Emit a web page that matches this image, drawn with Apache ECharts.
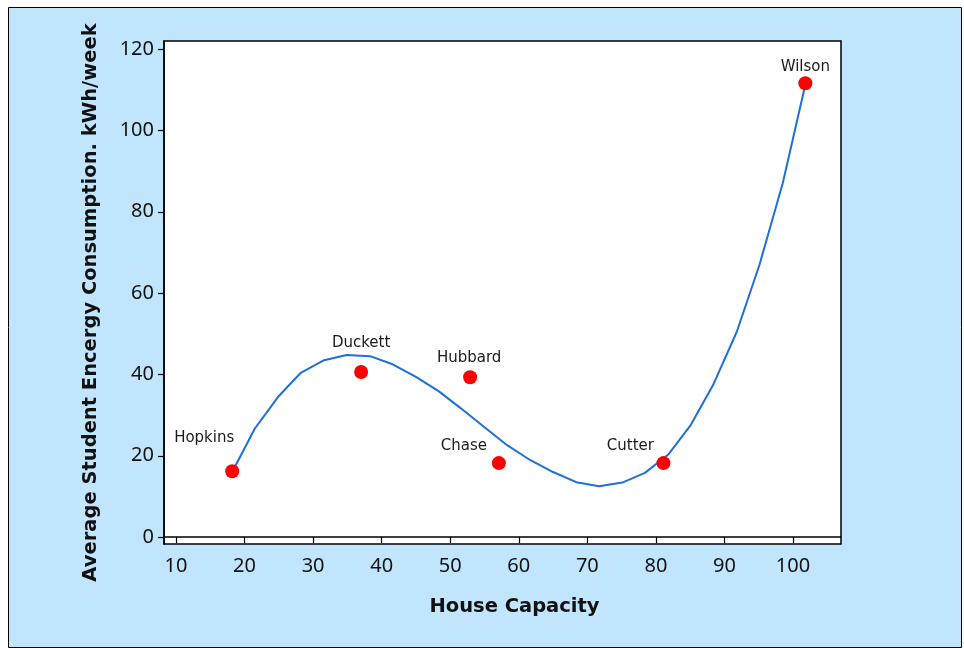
<!DOCTYPE html>
<html>
<head>
<meta charset="utf-8">
<script src="https://cdn.jsdelivr.net/npm/echarts@6/dist/echarts.min.js"></script>
<style>
  html, body { margin: 0; padding: 0; background: #fff; }
  #chart { width: 964px; height: 648px; }
</style>
</head>
<body>
<div id="chart"></div>
<script>
  // houses: name, capacity, energy per student
  const houseNames = ["Hopkins", "Duckett", "Hubbard", "Chase", "Cutter", "Wilson"];
  const houseCapacity = [18.2, 37.0, 52.9, 57.1, 81.1, 101.8];
  const houseEnergy = [16.2, 40.6, 39.3, 18.2, 18.2, 111.6];
  // label offsets relative to the dot (pixels)
  const labelOffsets = [[-28, -33], [0, -29], [-1, -19], [-35, -17], [-33, -17], [0, -16]];

  // fitted curve
  const curveX = [18.2, 21.5, 24.9, 28.2, 31.6, 34.9, 38.3, 41.6, 45.0, 48.3, 51.6, 55.0, 58.3,
    61.7, 65.0, 68.4, 71.7, 75.1, 78.4, 81.8, 85.1, 88.4, 91.8, 95.1, 98.5, 101.8];
  const curveY = [16.0, 26.7, 34.5, 40.4, 43.5, 44.8, 44.5, 42.5, 39.4, 35.9, 31.6, 27.0, 22.6,
    18.9, 16.0, 13.5, 12.5, 13.4, 15.8, 20.3, 27.6, 37.6, 50.5, 66.9, 87.0, 111.3];

  const xTicks = [10, 20, 30, 40, 50, 60, 70, 80, 90, 100];
  const yTicks = [0, 20, 40, 60, 80, 100, 120];

  const chart = echarts.init(document.getElementById("chart"));
  const font = "'Noto Sans', 'DejaVu Sans', sans-serif";
  const titleFont = "'DejaVu Sans', sans-serif";

  chart.setOption({
    animation: false,
    backgroundColor: "#ffffff",
    graphic: [{
      type: "rect",
      z: -10,
      shape: { x: 8.5, y: 7.5, width: 953, height: 640 },
      style: { fill: "#c1e5fc", stroke: "#000", lineWidth: 1 }
    }],
    grid: {
      show: true,
      left: 164, top: 41, right: 123, bottom: 104,
      backgroundColor: "#ffffff",
      borderColor: "#000",
      borderWidth: 1.5
    },
    xAxis: {
      type: "value",
      min: 8.25, max: 107,
      name: "House Capacity",
      nameLocation: "middle",
      nameGap: 53,
      nameTextStyle: { fontFamily: titleFont, fontSize: 19.5, fontWeight: "bold", color: "#111", padding: [0, 0, 0, 24] },
      axisLine: { lineStyle: { color: "#000", width: 1.5 } },
      axisTick: { show: true, length: 6, lineStyle: { color: "#000", width: 1.2 }, customValues: xTicks },
      axisLabel: { fontFamily: font, fontSize: 20, color: "#111", margin: 12, customValues: xTicks },
      splitLine: { show: false }
    },
    yAxis: {
      type: "value",
      min: -1.7, max: 122,
      name: "Average Student Encergy Consumption. kWh/week",
      nameLocation: "middle",
      nameGap: 63,
      nameTextStyle: { fontFamily: titleFont, fontSize: 19.5, fontWeight: "bold", color: "#111", padding: [0, 20, 0, 0] },
      axisLine: { lineStyle: { color: "#000", width: 1.5 } },
      axisTick: { show: true, length: 6, lineStyle: { color: "#000", width: 1.2 }, customValues: yTicks },
      axisLabel: { fontFamily: font, fontSize: 20, color: "#111", margin: 10, customValues: yTicks },
      splitLine: { show: false }
    },
    series: [
      {
        type: "line",
        data: curveX.map((x, i) => [x, curveY[i]]),
        showSymbol: false,
        smooth: false,
        lineStyle: { color: "#1e6fd9", width: 2 },
        z: 2
      },
      {
        type: "scatter",
        symbolSize: 14,
        itemStyle: { color: "#ff0000", opacity: 1 },
        z: 3,
        data: houseNames.map((name, i) => ({
          name,
          value: [houseCapacity[i], houseEnergy[i]],
          label: {
            show: true,
            position: "inside",
            offset: labelOffsets[i],
            formatter: name,
            fontFamily: "'DejaVu Sans', sans-serif",
            fontSize: 15,
            color: "#1a1a1a"
          }
        }))
      }
    ]
  });
</script>
</body>
</html>
